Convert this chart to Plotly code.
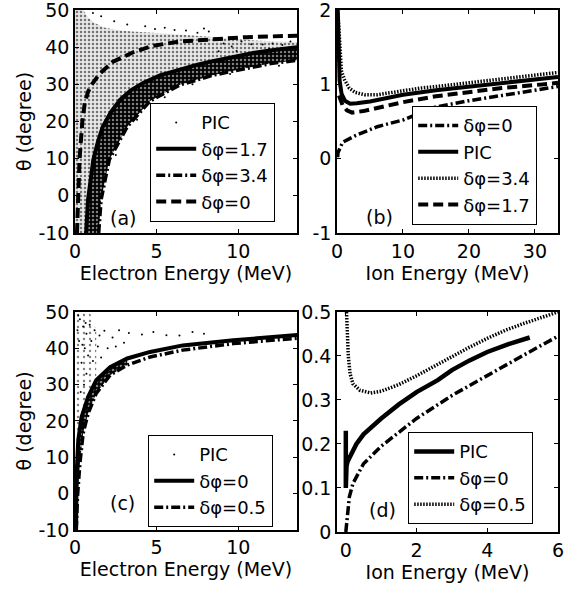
import plotly.graph_objects as go

# ---------------- Panel (a) data ----------------
a_x_solid = [0.68, 0.8, 0.95, 1.12, 1.4, 1.7, 2.2, 2.76, 3.4, 4.2, 5.2, 6.3, 7.5, 8.5, 9.7, 11, 12.3, 13.7]
a_y_solid = [-10, -1, 4, 9.7, 14.5, 18.6, 22.5, 25.8, 28.3, 30.4, 32.4, 33.8, 35.3, 36.3, 37.4, 38.5, 39.3, 40]
a_x_dashdot = [1.45, 1.6, 2.1, 3.2, 4.6, 6.4, 8.5, 10.5, 12, 13.7]
a_y_dashdot = [-10, -1, 9.7, 18.6, 25.5, 29.8, 32.5, 34.4, 35.6, 36.5]
a_x_dash = [0.12, 0.18, 0.28, 0.45, 0.6, 0.8, 1.0, 1.5, 2.3, 3.6, 4.8, 6.4, 8.5, 10.5, 13.7]
a_y_dash = [-10, 0, 10, 20, 25, 28, 29.8, 32.8, 36, 38.7, 40.4, 41.5, 42.2, 42.7, 43.1]
# upper envelope of the PIC cloud
a_x_cloud_top = [0, 0.5, 0.8, 1.2, 1.8, 2.5, 3.5, 5, 7, 9, 11, 13.7]
a_y_cloud_top = [50, 50, 48, 46.5, 45.3, 44.7, 44.2, 43.8, 43.2, 42.5, 41.8, 41.3]
# scattered PIC particles outside the dense cloud
a_x_pts = [6.8, 7.5, 8.2, 9.1, 9.6, 10.2, 10.8, 11.5, 12.1, 12.7, 13.2, 9.9, 11.9, 8.8, 7.9, 5.5, 4.3,
           3.2, 2.4, 1.6, 1.1, 2.5, 3.8, 5.5, 7.2, 9.5, 12.5, 6.1, 4.9, 10.6]
a_y_pts = [44.5, 43.9, 44.2, 41.0, 40.2, 41.5, 40.8, 40.7, 41.0, 40.6, 41.5, 39.0, 39.6, 38.9, 45.0, 45.2,
           45.6, 46.1, 47.0, 48.3, 49.2, 11, 20.5, 26.5, 30, 32.8, 35, 44.6, 44.9, 42.4]

# ---------------- Panel (b) data ----------------
b_x_pic = [0.12, 0.15, 0.25, 0.4, 0.7, 1.2, 2, 3, 5, 10, 15, 20, 25, 30, 33.5]
b_y_pic = [2.0, 1.8, 1.4, 1.05, 0.87, 0.78, 0.74, 0.745, 0.77, 0.86, 0.92, 0.97, 1.02, 1.07, 1.1]
b_x_dot = [0.15, 0.4, 0.67, 1.15, 1.85, 2.8, 4.2, 6.1, 8.4, 12.7, 16, 20, 25, 30, 33.5]
b_y_dot = [1.95, 1.65, 1.18, 1.06, 0.95, 0.89, 0.86, 0.86, 0.89, 0.95, 0.98, 1.02, 1.07, 1.12, 1.16]
b_x_dash = [0.3, 0.5, 0.85, 1.5, 2.3, 4, 7, 10, 15, 20, 25, 30, 33.5]
b_y_dash = [0.85, 0.8, 0.72, 0.65, 0.62, 0.64, 0.7, 0.76, 0.84, 0.9, 0.95, 0.99, 1.02]
b_x_dashdot = [0.1, 0.15, 0.85, 2.8, 6.1, 10, 14.7, 20, 25, 30.8, 33.5]
b_y_dashdot = [0.02, 0.08, 0.22, 0.31, 0.43, 0.52, 0.69, 0.78, 0.85, 0.94, 0.97]

# ---------------- Panel (c) data ----------------
c_x_solid = [0.05, 0.07, 0.1, 0.2, 0.4, 0.8, 1.3, 2.15, 3.2, 4.6, 6.6, 9.7, 13.7]
c_y_solid = [-10, -8, 5.5, 14.7, 21, 26.6, 31.2, 34.8, 37.2, 39, 40.8, 42.2, 43.7]
c_x_dashdot = [0.08, 0.1, 0.15, 0.3, 0.5, 0.8, 1.3, 2.15, 3.2, 4.6, 6.6, 9.7, 13.7]
c_y_dashdot = [-10, -8, -1, 8.3, 16.6, 22, 27.6, 32.6, 35.4, 37.6, 39.5, 41.3, 42.8]
c_x_pts = [0.3, 0.5, 0.7, 0.9, 1.2, 1.5, 1.8, 2.3, 2.7, 3.3, 4.1, 4.8, 5.6, 6.4, 7.2, 7.9, 1.0, 1.4,
           0.6, 0.4, 0.8, 0.25, 0.15, 0.55, 0.35, 0.7, 1.1, 1.6, 2.0, 2.5, 3.0, 0.2, 0.45, 0.65]
c_y_pts = [48, 46, 44, 46.5, 45, 43.5, 44.8, 43, 45, 44.2, 43.8, 44.5, 43.6, 43.5, 44.5, 44, 42, 40.5,
           40, 36, 38, 42, 45, 30, 28, 33, 36.5, 37.5, 40, 40.5, 41.5, 49, 41, 47]

# ---------------- Panel (d) data ----------------
d_x_pic = [0.0, 0.0, 0.02, 0.05, 0.3, 0.5, 1, 1.5, 2, 2.6, 3, 3.5, 4, 4.6, 5.2]
d_y_pic = [0.23, 0.1, 0.15, 0.16, 0.2, 0.222, 0.258, 0.29, 0.318, 0.345, 0.368, 0.39, 0.409, 0.427, 0.442]
d_x_dashdot = [0, 0.03, 0.1, 0.2, 0.5, 1, 1.5, 2, 2.5, 3, 3.5, 4, 4.5, 5, 5.5, 6]
d_y_dashdot = [0, 0.03, 0.08, 0.11, 0.155, 0.195, 0.226, 0.258, 0.284, 0.31, 0.333, 0.356, 0.378, 0.4, 0.423, 0.445]
d_x_dot = [0.02, 0.04, 0.07, 0.12, 0.2, 0.4, 0.7, 1.0, 1.5, 2, 2.5, 3, 3.5, 4, 4.5, 5, 5.5, 6]
d_y_dot = [0.5, 0.45, 0.4, 0.36, 0.337, 0.322, 0.316, 0.32, 0.335, 0.355, 0.377, 0.4, 0.42, 0.44, 0.458, 0.473, 0.486, 0.5]

# tick labels
ticks_theta = [-10, 0, 10, 20, 30, 40, 50]
ticks_theta_txt = ["-10", "0", "10", "20", "30", "40", "50"]
ticks_b_y = [-1, 0, 1, 2]
ticks_b_y_txt = ["-1", "0", "1", "2"]
ticks_d_y = [0, 0.1, 0.2, 0.3, 0.4, 0.5]
ticks_d_y_txt = ["0", "0.1", "0.2", "0.3", "0.4", "0.5"]

FONT = "DejaVu Sans"
FS = 19
DASH = "10px,5px"
DASHDOT = "9px,3px,2px,3px"
DOT = "1.5px,1.5px"

fig = go.Figure()


def line(x, y, name, dash, width, xa, ya, legend, show=True):
    fig.add_trace(go.Scatter(x=x, y=y, mode="lines", name=name,
                             line=dict(color="black", width=width, dash=dash),
                             xaxis=xa, yaxis=ya, legend=legend, showlegend=show))


def cloud(x, y, xa, ya, fg, bg, size, solidity):
    fig.add_trace(go.Scatter(x=x, y=y, mode="none", fill="toself",
                             fillcolor=bg,
                             fillpattern=dict(shape=".", fgcolor=fg, bgcolor=bg,
                                              size=size, solidity=solidity),
                             xaxis=xa, yaxis=ya, showlegend=False, hoverinfo="skip"))


def dots(x, y, xa, ya, legend):
    fig.add_trace(go.Scatter(x=x, y=y, mode="markers", name="PIC",
                             marker=dict(color="black", size=2),
                             xaxis=xa, yaxis=ya, legend=legend))


# ---- panel (a) ----
ax = [0] + a_x_cloud_top + [13.7] + a_x_solid[::-1] + [0]
ay = [-10] + a_y_cloud_top + [40] + a_y_solid[::-1] + [-10]
cloud(ax, ay, "x", "y", "black", "rgba(0,0,0,0.09)", 4, 0.3)
bx = a_x_solid + a_x_dashdot[::-1]
by = a_y_solid + a_y_dashdot[::-1]
cloud(bx, by, "x", "y", "white", "black", 4, 0.3)
dots(a_x_pts, a_y_pts, "x", "y", "legend")
line(a_x_solid, a_y_solid, "δφ=1.7", "solid", 4, "x", "y", "legend")
line(a_x_dashdot, a_y_dashdot, "δφ=3.4", DASHDOT, 3.5, "x", "y", "legend")
line(a_x_dash, a_y_dash, "δφ=0", DASH, 4, "x", "y", "legend")

# ---- panel (b) ----
line(b_x_dashdot, b_y_dashdot, "δφ=0", DASHDOT, 3.5, "x2", "y2", "legend2")
line(b_x_pic, b_y_pic, "PIC", "solid", 4, "x2", "y2", "legend2")
line(b_x_dot, b_y_dot, "δφ=3.4", DOT, 3.5, "x2", "y2", "legend2")
line(b_x_dash, b_y_dash, "δφ=1.7", DASH, 4, "x2", "y2", "legend2")

# ---- panel (c) ----
n = 7
cx = [0] + [0.9, 1.3] + c_x_solid[n - 1::-1] + [0]
cy = [50] + [50, 45] + c_y_solid[n - 1::-1] + [-10]
cloud(cx, cy, "x3", "y3", "black", "rgba(255,255,255,0)", 6, 0.12)
m = 9
dx = c_x_solid[:m] + c_x_dashdot[m - 1::-1]
dy = c_y_solid[:m] + c_y_dashdot[m - 1::-1]
cloud(dx, dy, "x3", "y3", "white", "black", 4, 0.35)
dots(c_x_pts, c_y_pts, "x3", "y3", "legend3")
line(c_x_solid, c_y_solid, "δφ=0", "solid", 4, "x3", "y3", "legend3")
line(c_x_dashdot, c_y_dashdot, "δφ=0.5", DASHDOT, 3.5, "x3", "y3", "legend3")

# ---- panel (d) ----
line(d_x_pic, d_y_pic, "PIC", "solid", 4.5, "x4", "y4", "legend4")
line(d_x_dashdot, d_y_dashdot, "δφ=0", DASHDOT, 3.5, "x4", "y4", "legend4")
line(d_x_dot, d_y_dot, "δφ=0.5", DOT, 3.5, "x4", "y4", "legend4")

axis_common = dict(showline=True, mirror="allticks", linecolor="black", linewidth=1.5,
                   ticks="inside", ticklen=4, tickcolor="black", tickwidth=1,
                   showgrid=False, zeroline=False, automargin=False,
                   ticklabeloverflow="allow",
                   tickfont=dict(family=FONT, size=FS, color="black"))

xA = [0, 0.4596]
xB = [0.5424, 1.0]
yTop = [0.5728, 1.0]
yBot = [0.004, 0.4215]

title_font = dict(family=FONT, size=FS, color="black")

fig.update_layout(
    width=574, height=591,
    margin=dict(l=75, r=16, t=10, b=59),
    paper_bgcolor="white", plot_bgcolor="white",
    font=dict(family=FONT, size=FS, color="black"),
    xaxis=dict(domain=xA, anchor="y", range=[0, 13.6], tickvals=[0, 5, 10],
               title=dict(text="Electron Energy (MeV)", font=title_font, standoff=4), **axis_common),
    yaxis=dict(domain=yTop, anchor="x", range=[-10, 50], tickvals=ticks_theta, ticktext=ticks_theta_txt,
               title=dict(text="θ (degree)", font=title_font, standoff=2), **axis_common),
    xaxis2=dict(domain=xB, anchor="y2", range=[0, 33.5], tickvals=[0, 10, 20, 30],
                title=dict(text="Ion Energy (MeV)", font=title_font, standoff=4), **axis_common),
    yaxis2=dict(domain=yTop, anchor="x2", range=[-1, 2], tickvals=ticks_b_y, ticktext=ticks_b_y_txt,
                **axis_common),
    xaxis3=dict(domain=xA, anchor="y3", range=[0, 13.6], tickvals=[0, 5, 10],
                title=dict(text="Electron Energy (MeV)", font=title_font, standoff=4), **axis_common),
    yaxis3=dict(domain=yBot, anchor="x3", range=[-10, 50], tickvals=ticks_theta, ticktext=ticks_theta_txt,
                title=dict(text="θ (degree)", font=title_font, standoff=2), **axis_common),
    xaxis4=dict(domain=xB, anchor="y4", range=[-0.25, 6], tickvals=[0, 2, 4, 6],
                title=dict(text="Ion Energy (MeV)", font=title_font, standoff=4), **axis_common),
    yaxis4=dict(domain=[0, 0.4215], anchor="x4", range=[0, 0.5],
                tickvals=ticks_d_y, ticktext=ticks_d_y_txt, **axis_common),
)

leg_common = dict(bgcolor="white", bordercolor="black", borderwidth=1.2,
                  font=dict(family=FONT, size=18, color="black"),
                  xanchor="left", yanchor="top", itemwidth=40, tracegroupgap=0,
                  traceorder="normal")

fig.update_layout(
    legend=dict(x=(150 - 75) / 483, y=(532 - 103) / 522, **leg_common),
    legend2=dict(x=(412 - 75) / 483, y=(532 - 106) / 522, **leg_common),
    legend3=dict(x=(148 - 75) / 483, y=(532 - 435) / 522, **leg_common),
    legend4=dict(x=(408 - 75) / 483, y=(532 - 432) / 522, **leg_common),
)

ann_font = dict(family=FONT, size=FS, color="black")
for txt, xr, yr, xv, yv in [("(a)", "x", "y", 2.95, -5.9), ("(b)", "x2", "y2", 6.5, -0.79),
                             ("(c)", "x3", "y3", 2.9, -2.7), ("(d)", "x4", "y4", 1.04, 0.05)]:
    fig.add_annotation(text=txt, x=xv, y=yv, xref=xr, yref=yr, showarrow=False, font=ann_font)

fig.write_html("out.html")
